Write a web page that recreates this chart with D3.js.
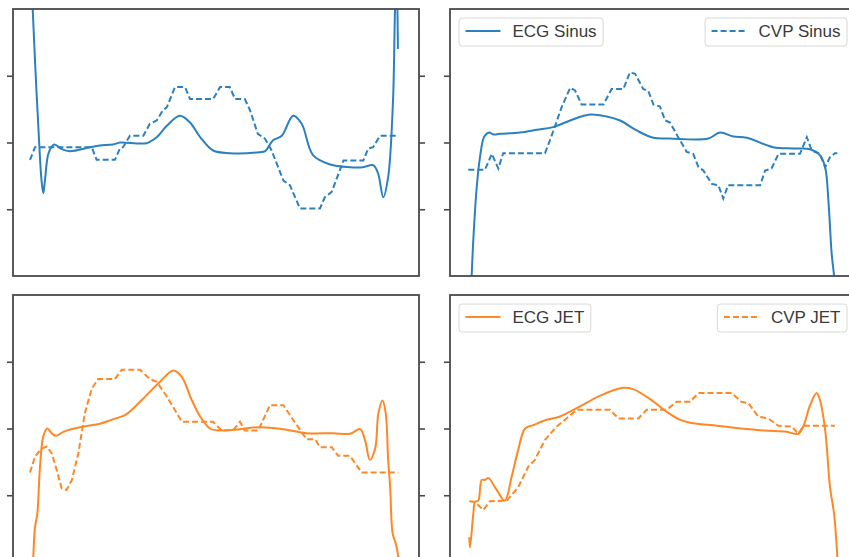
<!DOCTYPE html>
<html>
<head>
<meta charset="utf-8">
<script src="https://cdn.jsdelivr.net/npm/d3@7"></script>
<style>
  body { margin: 0; background: #fff; }
  svg { display: block; font-family: "Liberation Sans", Arial, sans-serif; }
</style>
</head>
<body>
<svg id="chart" width="849" height="557"></svg>
<script>
// x: % of cardiac cycle, y: normalised amplitude
const sinusEcgLeft = [[4.2,3.3],[4.85,2.0],[5.6,1.0],[6.4,0.05],[7.0,-0.55],[7.46,-0.76],[7.9,-0.55],[8.8,-0.15],[10.17,-0.03],
  [12.0,-0.10],[14.0,-0.13],[19.0,-0.07],[21.4,-0.045],[24.6,-0.03],[26.4,0.0],[32.9,-0.01],[35.4,0.08],[37.9,0.25],
  [41.1,0.40],[43.6,0.30],[46.1,0.08],[49.3,-0.12],[53.4,-0.16],[60.8,-0.145],[62.1,-0.13],[64.0,0.03],[66.2,0.10],
  [69.0,0.40],[71.1,0.28],[73.9,-0.19],[78.1,-0.33],[83.0,-0.37],[86.2,-0.37],[88.7,-0.34],[89.9,-0.46],[91.2,-0.82],
  [92.4,-0.52],[93.6,0.63],[94.1,1.99],[94.5,2.5],[94.8,1.40]]
const sinusCvpLeft = [[4.19,-0.26],[5.42,-0.07],[19.4,-0.07],[20.6,-0.26],[25.1,-0.26],[26.4,-0.08],[27.1,-0.07],[28.8,0.10],
  [32.1,0.10],[33.7,0.28],[35.4,0.33],[36.9,0.48],[37.9,0.53],[39.9,0.83],[42.4,0.83],[43.6,0.65],[49.3,0.65],[51.0,0.83],
  [53.4,0.83],[54.7,0.65],[57.1,0.65],[58.4,0.48],[60.3,0.13],[62.1,0.055],[63.7,-0.12],[66.6,-0.57],[68.2,-0.64],
  [70.7,-0.99],[75.6,-0.99],[76.8,-0.82],[78.5,-0.74],[81.4,-0.27],[86.3,-0.27],[87.5,-0.09],[88.7,-0.07],[90.4,0.10],[94.9,0.10]]

const sinusEcgRight = [[5.2,-2.2],[5.34,-2.0],[5.74,-1.46],[6.58,-0.67],[7.39,-0.22],[8.45,0.09],[9.68,0.15],[10.67,0.12],
  [12.3,0.13],[17.2,0.15],[21.4,0.19],[25.4,0.23],[29.6,0.33],[34.5,0.42],[38.6,0.39],[41.9,0.33],[46.0,0.18],[50.1,0.07],
  [54.2,0.06],[63.6,0.06],[66.5,0.15],[69.8,0.09],[73.1,0.07],[79.6,-0.07],[84.6,-0.09],[88.7,-0.10],[91.1,-0.19],
  [92.4,-0.37],[93.2,-0.87],[94.0,-1.66],[94.6,-2.0],[94.8,-2.2]]
const sinusCvpRight = [[4.5,-0.41],[8.6,-0.41],[10.3,-0.17],[11.9,-0.39],[13.1,-0.16],[23.4,-0.16],[24.6,0.03],[25.9,0.25],
  [27.5,0.53],[29.6,0.82],[30.8,0.78],[32.4,0.57],[37.8,0.57],[39.8,0.80],[42.7,0.80],[44.3,1.05],[45.6,1.03],[47.6,0.80],
  [48.8,0.78],[50.1,0.57],[51.7,0.54],[53.0,0.33],[54.2,0.30],[56.2,0.08],[58.3,-0.14],[59.9,-0.17],[61.2,-0.37],
  [62.4,-0.42],[64.5,-0.62],[66.1,-0.64],[67.3,-0.84],[68.5,-0.64],[76.4,-0.64],[77.6,-0.42],[79.2,-0.39],[80.9,-0.17],
  [86.2,-0.17],[87.9,0.08],[89.1,-0.12],[91.1,-0.17],[92.4,-0.37],[93.6,-0.22],[94.8,-0.16],[95.4,-0.16]]

const jetEcgLeft = [[4.88,-2.2],[5.0,-1.92],[5.42,-1.48],[5.99,-1.28],[6.65,-0.57],[7.46,-0.12],[8.45,0.0],[9.53,-0.07],
  [10.6,-0.11],[12.4,-0.05],[17.3,0.03],[21.4,0.07],[24.7,0.14],[27.6,0.20],[29.6,0.30],[32.9,0.50],[36.2,0.70],[39.5,0.87],
  [41.5,0.78],[44.0,0.43],[46.1,0.18],[48.5,0.0],[51.0,-0.03],[54.3,-0.02],[60.8,0.02],[66.6,-0.01],[72.3,-0.07],
  [78.9,-0.07],[83.0,-0.08],[85.5,-0.01],[86.7,-0.17],[87.9,-0.47],[89.2,-0.30],[90.0,0.23],[91.0,0.42],[91.8,0.23],
  [92.4,-0.47],[92.9,-0.88],[93.5,-1.57],[94.3,-1.73],[94.9,-1.92],[95.1,-2.2]]
const jetCvpLeft = [[4.19,-0.66],[5.42,-0.42],[7.07,-0.30],[8.30,-0.27],[9.53,-0.37],[10.76,-0.62],[12.0,-0.90],[13.2,-0.92],
  [14.5,-0.77],[16.1,-0.37],[17.7,0.23],[19.4,0.60],[21.0,0.74],[25.1,0.74],[26.8,0.88],[31.3,0.88],[33.7,0.74],[35.4,0.70],
  [37.9,0.48],[41.6,0.10],[49.3,0.10],[51.4,-0.03],[54.3,-0.02],[55.9,0.10],[57.1,-0.03],[60.4,-0.03],[63.3,0.35],
  [66.6,0.35],[69.0,0.13],[72.3,-0.16],[74.4,-0.16],[75.6,-0.28],[78.5,-0.28],[80.1,-0.41],[83.0,-0.41],[85.9,-0.66],[94.9,-0.66]]

const jetEcgRight = [[4.75,-1.63],[4.93,-1.78],[5.74,-1.28],[6.16,-1.10],[6.97,-1.08],[7.81,-0.77],[8.62,-0.77],[9.43,-0.74],
  [11.5,-0.92],[13.5,-1.08],[15.2,-0.72],[16.8,-0.32],[18.5,0.0],[20.5,0.05],[23.8,0.13],[27.1,0.18],[32.0,0.33],[36.9,0.49],
  [42.7,0.61],[45.1,0.59],[49.3,0.44],[53.4,0.25],[56.7,0.13],[60.8,0.07],[64.9,0.05],[69.0,0.02],[77.2,-0.03],[82.9,-0.05],
  [85.8,-0.08],[87.0,0.03],[88.7,0.35],[90.3,0.53],[91.1,0.43],[92.4,-0.02],[93.6,-0.88],[94.6,-1.28],[95.4,-1.92],[95.6,-2.2]]
const jetCvpRight = [[4.75,-1.09],[6.16,-1.10],[8.20,-1.22],[9.85,-1.09],[14.0,-1.08],[16.8,-0.88],[19.3,-0.57],[20.9,-0.47],
  [23.4,-0.17],[26.3,0.03],[28.7,0.15],[31.2,0.28],[39.4,0.28],[41.5,0.15],[46.4,0.15],[48.4,0.28],[53.4,0.28],[55.8,0.40],
  [59.1,0.40],[61.2,0.53],[69.4,0.53],[71.8,0.40],[73.5,0.38],[75.9,0.18],[78.4,0.15],[80.9,0.04],[84.2,0.03],[85.8,-0.08],
  [87.0,0.04],[94.8,0.04]]

const xDomain = [0, 100]
const yDomain = [-2, 2]
const yTicks = [-1, 0, 1]

const blue = '#2b80c0'
const orange = '#ff8826'

const panels = [
  {left: 13, top: 9, ecg: sinusEcgLeft, cvp: sinusCvpLeft, color: blue, legend: null, rightTicks: true},
  {left: 450, top: 9, ecg: sinusEcgRight, cvp: sinusCvpRight, color: blue, legend: ['ECG Sinus', 'CVP Sinus'], rightTicks: true},
  {left: 13, top: 295, ecg: jetEcgLeft, cvp: jetCvpLeft, color: orange, legend: null, rightTicks: true},
  {left: 450, top: 295, ecg: jetEcgRight, cvp: jetCvpRight, color: orange, legend: ['ECG JET', 'CVP JET'], rightTicks: true}
]

const width = 406
const height = 267
const svg = d3.select('#chart')

panels.forEach(function (p, i) {
  const x = d3.scaleLinear().domain(xDomain).range([0, width])
  const y = d3.scaleLinear().domain(yDomain).range([height, 0])

  const g = svg.append('g').attr('transform', 'translate(' + p.left + ',' + p.top + ')')

  g.append('clipPath').attr('id', 'clip' + i)
    .append('rect').attr('width', width).attr('height', height)

  const line = d3.line()
    .x(function (d) { return x(d[0]) })
    .y(function (d) { return y(d[1]) })

  const plot = g.append('g').attr('clip-path', 'url(#clip' + i + ')')

  plot.append('path')
    .datum(p.cvp)
    .attr('fill', 'none')
    .attr('stroke', p.color)
    .attr('stroke-width', 2)
    .attr('stroke-dasharray', '6,3')
    .attr('d', line.curve(d3.curveLinear))

  plot.append('path')
    .datum(p.ecg)
    .attr('fill', 'none')
    .attr('stroke', p.color)
    .attr('stroke-width', 2)
    .attr('d', line.curve(d3.curveCatmullRom.alpha(0.5)))

  // axes: ticks only, no labels
  const ax = g.append('g').call(d3.axisLeft(y).tickValues(yTicks).tickSize(6).tickFormat(''))
  ax.select('.domain').remove()
  if (p.rightTicks) {
    const axr = g.append('g').attr('transform', 'translate(' + width + ',0)')
      .call(d3.axisRight(y).tickValues(yTicks).tickSize(6).tickFormat(''))
    axr.select('.domain').remove()
  }
  g.selectAll('.tick line').attr('stroke', '#4a4a4a').attr('stroke-width', 1.6)

  g.append('rect')
    .attr('width', width).attr('height', height)
    .attr('fill', 'none')
    .attr('stroke', '#4a4a4a')
    .attr('stroke-width', 1.8)

  if (p.legend) {
    const styles = [null, '6,3']
    p.legend.forEach(function (label, k) {
      const lg = g.append('g')
      const box = lg.append('rect')
        .attr('y', 9).attr('height', 28).attr('rx', 3)
        .attr('fill', '#fff').attr('fill-opacity', 0.8)
        .attr('stroke', '#d8d8d8').attr('stroke-width', 1)
      const sample = lg.append('line')
        .attr('y1', 22).attr('y2', 22)
        .attr('stroke', p.color).attr('stroke-width', 2)
        .attr('stroke-dasharray', styles[k])
      const txt = lg.append('text')
        .attr('y', 28).attr('font-size', 17).attr('fill', '#3a3a3a')
        .text(label)
      const tw = txt.node().getComputedTextLength()
      const bw = 6.5 + 35 + 12 + tw + 6.5
      const bx = k === 0 ? 9 : width - 9 - bw
      box.attr('x', bx).attr('width', bw)
      sample.attr('x1', bx + 6.5).attr('x2', bx + 41.5)
      txt.attr('x', bx + 53.5)
    })
  }
})
</script>
</body>
</html>
